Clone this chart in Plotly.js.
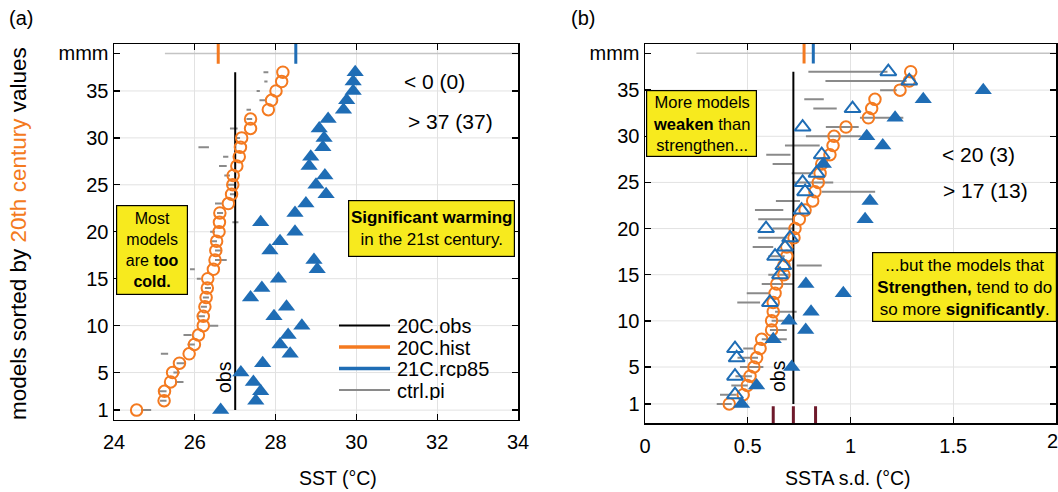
<!DOCTYPE html>
<html><head><meta charset="utf-8">
<script src="https://cdn.plot.ly/plotly-3.0.1.min.js"></script>
<style>html,body{margin:0;padding:0;background:#fff}#chart{width:1058px;height:492px}</style>
</head><body><div id="chart"></div>
<script>
// ---------- data ----------
const models = [1,2,3,4,5,6,7,8,9,10,11,12,13,14,15,16,17,18,19,20,21,22,23,24,25,26,27,28,29,30,31,32,33,34,35,36,37];
const yTickVals = [1,5,10,15,20,25,30,35,39];
const yTickText = ['1','5','10','15','20','25','30','35','mmm'];
const yGridVals = [1,5,10,15,20,25,30,35];
const mmmRow = 39;

// (a) mean SST
const sstTickVals = [24,26,28,30,32,34];
const sstHist = [24.56,25.24,25.25,25.40,25.45,25.62,25.86,25.99,26.09,26.21,26.21,26.25,26.28,26.31,26.32,26.46,26.50,26.52,26.54,26.60,26.61,26.62,26.83,26.91,26.94,26.95,27.04,27.10,27.13,27.16,27.38,27.38,27.82,27.90,28.01,28.15,28.18];
const sstRcp  = [26.64,27.51,27.63,27.45,27.14,27.68,28.36,28.11,28.31,28.65,27.96,28.27,27.38,27.66,28.07,29.03,28.95,27.86,28.11,28.48,27.63,28.48,28.75,29.25,29.00,29.22,28.83,28.87,29.17,29.20,29.08,29.30,29.68,29.76,29.92,29.92,29.97];
const sstCtrlLo = [24.67,25.14,25.10,25.51,25.47,25.55,25.16,25.82,25.72,26.33,26.05,26.15,26.20,26.25,26.05,25.88,26.50,26.50,26.40,26.38,26.93,26.55,26.50,26.87,26.79,26.73,26.60,26.70,26.09,27.00,26.87,27.28,27.28,27.60,27.53,27.72,27.70];
const sstCtrlHi = [24.92,25.30,25.30,25.72,25.63,25.75,25.34,26.00,25.92,26.58,26.25,26.30,26.35,26.40,26.15,26.00,26.79,26.67,26.55,26.50,27.08,26.70,26.67,27.01,27.00,26.87,26.79,26.83,26.35,27.12,27.06,27.42,27.39,27.75,27.61,27.80,27.82];
const sstObs = 27.0;
const sstMmmHist = 26.58, sstMmmRcp = 28.5;
const sstMmmCtrl = [25.26, 34.5];

// (b) SSTA standard deviation
const sdTickVals = [0,0.5,1,1.5,2];
const sdTickText = ['0','0.5','1','1.5','2'];
const sdHist = [0.410,0.478,0.498,0.511,0.530,0.543,0.560,0.568,0.616,0.616,0.624,0.624,0.633,0.641,0.676,0.676,0.690,0.690,0.725,0.730,0.751,0.779,0.816,0.827,0.843,0.852,0.860,0.900,0.915,0.920,0.978,1.087,1.103,1.119,1.241,1.286,1.293];
const sdRcp  = [0.470,0.438,0.543,0.438,0.714,0.446,0.438,0.624,0.782,0.701,0.808,0.608,0.965,0.783,0.657,0.673,0.633,0.681,0.706,0.589,1.071,0.762,1.095,0.779,0.767,0.835,0.868,0.860,1.157,1.079,0.767,1.217,1.010,1.354,1.646,1.286,1.184];
const sdSignif = [1,0,1,0,1,0,0,1,1,1,1,0,1,1,0,0,0,0,0,0,1,0,1,0,0,0,1,0,1,1,0,1,0,1,1,0,0];
const sdCtrlLo = [0.349,0.365,0.420,0.440,0.462,0.450,0.478,0.568,0.608,0.616,0.633,0.449,0.495,0.568,0.600,0.738,0.600,0.524,0.551,0.620,0.551,0.535,0.637,0.860,0.722,0.714,0.621,0.590,0.681,0.783,0.880,1.046,0.819,0.775,1.144,0.878,0.795];
const sdCtrlHi = [0.422,0.446,0.500,0.520,0.576,0.550,0.527,0.690,0.690,0.730,0.738,0.560,0.608,0.722,0.700,0.860,0.680,0.624,0.690,0.720,0.722,0.673,0.754,1.120,0.916,0.819,0.718,0.708,0.850,1.050,1.040,1.257,0.933,0.870,1.225,1.273,1.180];
const sdObs = 0.722;
const sdObsRange = [0.624, 0.722, 0.830];
const sdMmmHist = 0.774, sdMmmRcp = 0.819;
const sdMmmCtrl = [0.25, 2.2];

// ---------- styles ----------
const ORANGE = '#F47A20', BLUE = '#1F6DB5', GRAY = '#8a8a8a', MAROON = '#6e1a2b', YELLOW = '#f7ea1e';
const FONT = 'Liberation Sans, Arial, Helvetica, sans-serif';
const W = 1058, H = 492;
const PX = p => p / W, PY = p => 1 - p / H;

function segs(lo, hi, ys) {
  const x = [], y = [];
  for (let i = 0; i < lo.length; i++) { x.push(lo[i], hi[i], null); y.push(ys[i], ys[i], null); }
  return {x, y};
}

const traces = [];
function panel(xa, ya, hist, rcp, cLo, cHi, obs, mmmH, mmmR, mmmC, signif) {
  const s = segs(cLo, cHi, models);
  traces.push({x: s.x, y: s.y, xaxis: xa, yaxis: ya, mode: 'lines', line: {color: GRAY, width: 2}, hoverinfo: 'skip'});
  traces.push({x: mmmC, y: [mmmRow, mmmRow], xaxis: xa, yaxis: ya, mode: 'lines', line: {color: '#c4c4c4', width: 1.5}, hoverinfo: 'skip'});
  traces.push({x: [obs, obs], y: [models[0], models[models.length-1]], xaxis: xa, yaxis: ya, mode: 'lines', line: {color: '#000', width: 2}});
  traces.push({x: [mmmH, mmmH], y: [mmmRow - 1.1, mmmRow + 1.5], xaxis: xa, yaxis: ya, mode: 'lines', line: {color: ORANGE, width: 3}});
  traces.push({x: [mmmR, mmmR], y: [mmmRow - 1.1, mmmRow + 1.5], xaxis: xa, yaxis: ya, mode: 'lines', line: {color: BLUE, width: 3}});
  traces.push({x: hist, y: models, xaxis: xa, yaxis: ya, mode: 'markers',
    marker: {symbol: 'circle-open', size: 11.5, color: ORANGE, line: {color: ORANGE, width: 2}}});
  if (!signif) {
    traces.push({x: rcp, y: models, xaxis: xa, yaxis: ya, mode: 'markers',
      marker: {symbol: 'triangle-up', size: 15, color: BLUE, line: {width: 0}}});
  } else {
    const fx = [], fy = [], ox = [], oy = [];
    rcp.forEach((v, i) => { if (signif[i]) { fx.push(v); fy.push(models[i]); } else { ox.push(v); oy.push(models[i]); } });
    traces.push({x: ox, y: oy, xaxis: xa, yaxis: ya, mode: 'markers',
      marker: {symbol: 'triangle-up-open', size: 14, color: BLUE, line: {color: BLUE, width: 2}}});
    traces.push({x: fx, y: fy, xaxis: xa, yaxis: ya, mode: 'markers',
      marker: {symbol: 'triangle-up', size: 15, color: BLUE, line: {width: 0}}});
  }
}
panel('x', 'y', sstHist, sstRcp, sstCtrlLo, sstCtrlHi, sstObs, sstMmmHist, sstMmmRcp, sstMmmCtrl, null);
// obs range ticks (b)
sdObsRange.forEach(v => traces.push({x: [v, v], y: [-1.5, 0.75], xaxis: 'x2', yaxis: 'y2', mode: 'lines', line: {color: MAROON, width: 3}}));
panel('x2', 'y2', sdHist, sdRcp, sdCtrlLo, sdCtrlHi, sdObs, sdMmmHist, sdMmmRcp, sdMmmCtrl, sdSignif);

const axBase = {
  showline: true, linecolor: '#000', linewidth: 1.5, mirror: 'ticks', ticks: 'inside', ticklen: 6, tickwidth: 1.3, tickcolor: '#000',
  zeroline: false, gridcolor: '#e2e2e2', gridwidth: 1, tickfont: {family: FONT, size: 20, color: '#000'}, fixedrange: true
};
const layout = {
  width: W, height: H, margin: {l: 0, r: 0, t: 0, b: 0}, showlegend: false,
  paper_bgcolor: '#fff', plot_bgcolor: '#fff', font: {family: FONT, color: '#000'},
  xaxis: Object.assign({}, axBase, {domain: [PX(114), PX(518)], range: [24, 34], tickvals: sstTickVals, anchor: 'y', showgrid: true, ticklabelstandoff: 4}),
  yaxis: Object.assign({}, axBase, {domain: [PY(419.5), PY(44)], range: [0, 40], tickvals: yTickVals, ticktext: yTickText, anchor: 'x', showgrid: false}),
  xaxis2: Object.assign({}, axBase, {domain: [PX(645), PX(1056)], range: [0, 2], tickvals: sdTickVals, ticktext: sdTickText, anchor: 'y2', showgrid: true, ticklabelstandoff: 4}),
  yaxis2: Object.assign({}, axBase, {domain: [PY(423.3), PY(44)], range: [-1.1, 40], tickvals: yTickVals, ticktext: yTickText, anchor: 'x2', showgrid: false}),
  shapes: [], annotations: []
};
// horizontal grid lines (not at mmm row)
[['x','y'],['x2','y2']].forEach(([xa, ya]) => yGridVals.forEach(v => layout.shapes.push({
  type: 'line', xref: xa + ' domain', yref: ya, x0: 0, x1: 1, y0: v, y1: v, layer: 'below', line: {color: '#e2e2e2', width: 1}})));

// legend (a)
const legItems = [['20C.obs', '#000', 2], ['20C.hist', ORANGE, 3.5], ['21C.rcp85', BLUE, 3.5], ['ctrl.pi', GRAY, 2]];
const legRows = [325.5, 347, 368.5, 390];
legItems.forEach((it, i) => {
  layout.shapes.push({type: 'line', xref: 'paper', yref: 'paper', x0: PX(339), x1: PX(390), y0: PY(legRows[i]), y1: PY(legRows[i]), line: {color: it[1], width: it[2]}});
  layout.annotations.push({xref: 'paper', yref: 'paper', x: PX(396), y: PY(legRows[i]), xanchor: 'left', yanchor: 'middle', showarrow: false, text: it[0], font: {size: 20}, height: 19, borderpad: 0});
});

function txt(x, y, text, size, extra) {
  layout.annotations.push(Object.assign({xref: 'paper', yref: 'paper', x: PX(x), y: PY(y), xanchor: 'center', yanchor: 'middle', showarrow: false, text: text, font: {size: size, color: '#000'}}, extra || {}));
}
function box(x, y, w, h, text, size) {
  txt(x, y, text, size, {bgcolor: YELLOW, bordercolor: '#000', borderwidth: 1.2, borderpad: 2, width: w, height: h, align: 'center'});
}
txt(21, 18, '(a)', 20);
txt(583, 18, '(b)', 20);
txt(18, 234, 'models sorted by <span style="color:' + ORANGE + '">20th century</span> values', 22.5, {textangle: -90});
txt(338, 478, 'SST (°C)', 19.5);
txt(848, 478, 'SSTA s.d. (°C)', 19.5);
txt(1052, 441, '2', 20);
txt(224, 377, 'obs', 19.5, {textangle: -90});
txt(778, 376, 'obs', 19.5, {textangle: -90});
txt(434.5, 82, '&lt; 0 (0)', 21);
txt(450.5, 121, '&gt; 37 (37)', 21);
txt(978, 154, '&lt; 20 (3)', 21);
txt(985.5, 190, '&gt; 17 (13)', 21);
box(152, 250, 66, 84, 'Most<br>models<br>are <b>too</b><br><b>cold.</b>', 16);
box(431.5, 228.5, 161, 51, '<b>Significant warming</b><br>in the 21st century.', 17);
box(701.5, 123.5, 105, 61, 'More models<br><b>weaken</b> than<br>strengthen...', 16.5);
box(964.5, 287, 179, 64, '...but the models that<br><b>Strengthen,</b> tend to do<br>so more <b>significantly</b>.', 17);

Plotly.newPlot('chart', traces, layout, {staticPlot: true, displayModeBar: false});
</script></body></html>
